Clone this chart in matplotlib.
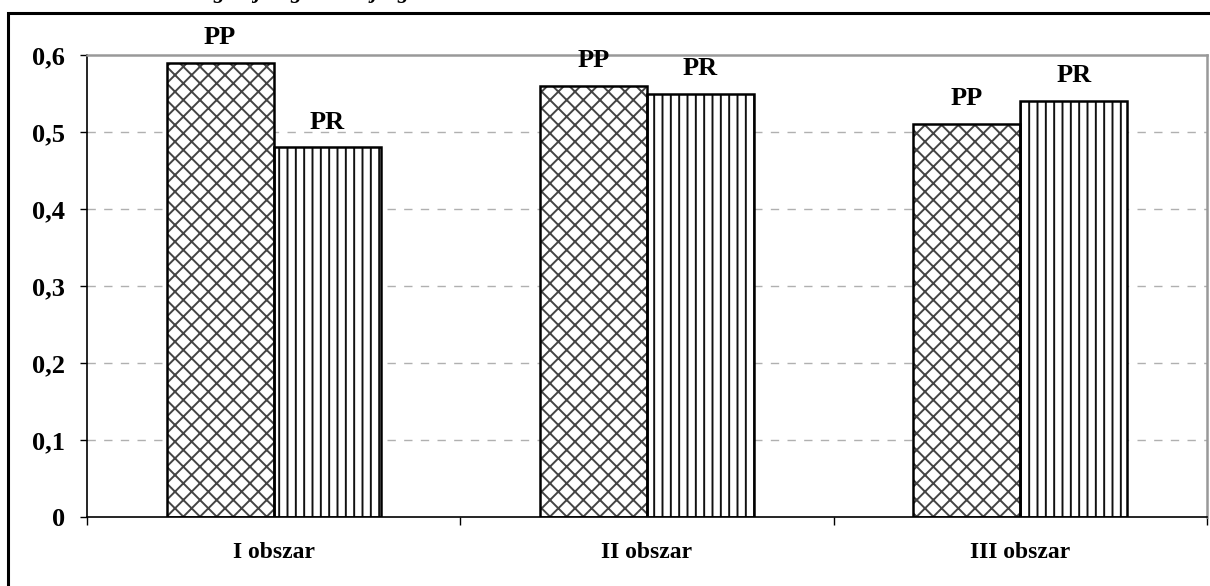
import numpy as np
import matplotlib
matplotlib.use("Agg")
from matplotlib import pyplot as plt
from matplotlib.patches import Rectangle

# Data
categories = ["I obszar", "II obszar", "III obszar"]
series_names = ["PP", "PR"]
pp_values = [0.59, 0.56, 0.51]
pr_values = [0.48, 0.55, 0.54]
y_ticks = [0, 0.1, 0.2, 0.3, 0.4, 0.5, 0.6]
y_tick_labels = ["0", "0,1", "0,2", "0,3", "0,4", "0,5", "0,6"]

plt.rcParams["font.family"] = ["Liberation Serif", "DejaVu Serif"]
plt.rcParams["font.weight"] = "bold"
plt.rcParams["hatch.linewidth"] = 1.4

fig = plt.figure(figsize=(12.1, 5.86), dpi=100)
ax = fig.add_axes([0.0719, 0.1177, 0.9256, 0.7884])

x = np.arange(len(categories))
width = 0.287
hatches = ["xx", "||"]
hatch_colors = ["#444444", "#111111"]

for i, (name, values) in enumerate(zip(series_names, [pp_values, pr_values])):
    pos = x + (i - 0.5) * width
    # hatch layer, then outline on top
    ax.bar(pos, values, width, color="white", edgecolor=hatch_colors[i],
           hatch=hatches[i], linewidth=0, zorder=2)
    ax.bar(pos, values, width, fill=False, edgecolor="black",
           linewidth=1.8, zorder=3)
    for p, v in zip(pos, values):
        ax.annotate(name, (p, v), xytext=(0, 10), textcoords="offset points",
                    ha="center", va="bottom", fontsize=19, fontweight="bold")

# Axes setup
ax.set_xlim(-0.5, len(categories) - 0.5)
ax.set_ylim(0, 0.6)
ax.set_yticks(y_ticks)
ax.set_yticklabels(y_tick_labels, fontsize=19, fontweight="bold")
ax.tick_params(axis="y", direction="out", length=5, width=1, pad=11)

ax.set_xticks(np.arange(len(categories) + 1) - 0.5)
ax.set_xticklabels([])
ax.set_xticks(x, minor=True)
ax.set_xticklabels(categories, minor=True, fontsize=17, fontweight="bold")
ax.tick_params(axis="x", which="major", direction="out", length=6, width=1)
ax.tick_params(axis="x", which="minor", length=0, pad=18)

# Grid and borders
for t in y_ticks[1:-1]:
    ax.axhline(t, color="#b0b0b0", linewidth=1, linestyle=(0, (6, 6)), zorder=1)
ax.spines["left"].set_color("black")
ax.spines["bottom"].set_color("black")
ax.spines["left"].set_linewidth(1.2)
ax.spines["bottom"].set_linewidth(1.2)
ax.spines["top"].set_color("#999999")
ax.spines["right"].set_color("#999999")
ax.spines["top"].set_linewidth(1.8)
ax.spines["right"].set_linewidth(1.8)

# Outer frame (extends past the right and bottom edge, as in the scan)
fig.patches.append(Rectangle((8 / 1210, -0.2), 1.2, 1.2 - 13 / 586,
                             transform=fig.transFigure, fill=False,
                             edgecolor="black", linewidth=2.2))

# Title, cut off at the top edge of the scan: only descenders show
fig.text(0.07, 1 + 2 / 586, "Wskaźnik integracji regionalnej wg obszaru",
         ha="left", va="baseline", fontsize=16, fontweight="bold",
         fontstyle="italic")

fig.savefig("out.png", dpi=100)
